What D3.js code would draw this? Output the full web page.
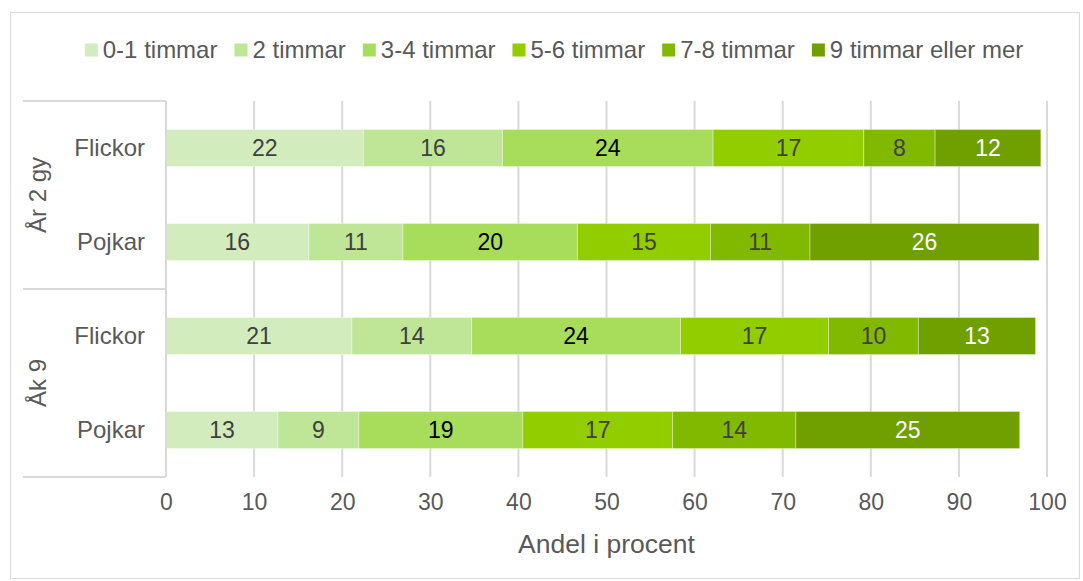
<!DOCTYPE html>
<html>
<head>
<meta charset="utf-8">
<script src="https://cdn.jsdelivr.net/npm/d3@7"></script>
<style>
  body { margin: 0; background: #fff; }
  svg text { font-family: 'Liberation Sans', Arial, sans-serif; }
</style>
</head>
<body>
<div id="graf"></div>
<script>
// data
const serier = ['0-1 timmar', '2 timmar', '3-4 timmar', '5-6 timmar', '7-8 timmar', '9 timmar eller mer']
const grupper = ['År 2 gy', 'År 2 gy', 'Åk 9', 'Åk 9']
const kon = ['Flickor', 'Pojkar', 'Flickor', 'Pojkar']
const t01 = [22.4, 16.2, 21.1, 12.7]
const t2 = [15.8, 10.7, 13.6, 9.2]
const t34 = [23.9, 19.8, 23.7, 18.6]
const t56 = [17.1, 15.1, 16.8, 17.0]
const t78 = [8.1, 11.3, 10.2, 14.0]
const t9 = [12.0, 26.0, 13.3, 25.4]
const xTicks = [0, 10, 20, 30, 40, 50, 60, 70, 80, 90, 100]

const farger = ['#d3ecbd', '#bfe596', '#a8dc5b', '#92cd00', '#81b900', '#6fa000']
const textFarger = ['#404040', '#404040', '#000000', '#404040', '#404040', '#ffffff']

const W = 1083, H = 581
const svg = d3.select('#graf').append('svg').attr('width', W).attr('height', H)

// ram runt diagrammet
svg.append('rect')
  .attr('x', 10.5).attr('y', 12.5).attr('width', W - 14).attr('height', H - 15)
  .attr('fill', '#fff').attr('stroke', '#d9d9d9')

const rader = kon.map((k, i) => ({
  key: grupper[i] + '|' + k, grupp: grupper[i], kon: k,
  [serier[0]]: t01[i], [serier[1]]: t2[i], [serier[2]]: t34[i],
  [serier[3]]: t56[i], [serier[4]]: t78[i], [serier[5]]: t9[i]
}))

const x = d3.scaleLinear().domain([0, 100]).range([166, 1047])
const y = d3.scaleBand().domain(rader.map(d => d.key)).range([101, 477])
  .paddingInner(0.606).paddingOuter(0.303)
const color = d3.scaleOrdinal().domain(serier).range(farger)

// rutnät
svg.append('g').selectAll('line').data(xTicks).join('line')
  .attr('x1', d => x(d)).attr('x2', d => x(d))
  .attr('y1', 101).attr('y2', 477)
  .attr('stroke', '#d9d9d9').attr('stroke-width', 2)

// x-axel etiketter
const xAxis = svg.append('g').attr('transform', 'translate(0,477)')
  .call(d3.axisBottom(x).tickValues(xTicks).tickSize(0).tickPadding(17).tickFormat(d3.format('d')))
xAxis.select('.domain').remove()
xAxis.selectAll('text').attr('font-size', 23).attr('fill', '#595959')
  .attr('font-family', "'Liberation Sans', Arial, sans-serif")

svg.append('text').attr('x', x(50)).attr('y', 553).attr('text-anchor', 'middle')
  .attr('font-size', 26.5).attr('fill', '#595959').text('Andel i procent')

// staplar
const stack = d3.stack().keys(serier)(rader)
const lager = svg.append('g').selectAll('g').data(stack).join('g')
  .attr('fill', d => color(d.key))
lager.selectAll('rect').data(d => d).join('rect')
  .attr('x', d => x(d[0]))
  .attr('y', d => y(d.data.key))
  .attr('width', d => x(d[1]) - x(d[0]))
  .attr('height', y.bandwidth())
  .attr('stroke', '#ffffff').attr('stroke-opacity', 0.35).attr('stroke-width', 1)

// dataetiketter
stack.forEach((s, si) => {
  svg.append('g').selectAll('text').data(s).join('text')
    .attr('x', d => (x(d[0]) + x(d[1])) / 2)
    .attr('y', d => y(d.data.key) + y.bandwidth() / 2)
    .attr('dy', '0.35em').attr('text-anchor', 'middle')
    .attr('font-size', 23).attr('fill', textFarger[si])
    .text(d => Math.round(d[1] - d[0]))
})

// kategoriaxel (två nivåer)
const axel = svg.append('g').attr('stroke', '#d9d9d9').attr('stroke-width', 2)
axel.append('line').attr('x1', 166).attr('x2', 166).attr('y1', 101).attr('y2', 477)
;[101, 289, 477].forEach(yy => {
  axel.append('line').attr('x1', 23).attr('x2', 166).attr('y1', yy).attr('y2', yy)
})

svg.append('g').selectAll('text').data(rader).join('text')
  .attr('x', 145).attr('y', d => y(d.key) + y.bandwidth() / 2)
  .attr('dy', '0.35em').attr('text-anchor', 'end')
  .attr('font-size', 24).attr('fill', '#595959').text(d => d.kon)

const gruppNamn = Array.from(new Set(grupper))
svg.append('g').selectAll('text').data(gruppNamn).join('text')
  .attr('transform', g => {
    const ks = rader.filter(r => r.grupp === g).map(r => y(r.key) + y.bandwidth() / 2)
    return `translate(38,${d3.mean(ks)}) rotate(-90)`
  })
  .attr('dy', '0.35em').attr('text-anchor', 'middle')
  .attr('font-size', 24).attr('fill', '#595959').text(g => g)

// legend
const legend = svg.append('g')
const items = legend.selectAll('g').data(serier).join('g')
items.append('rect').attr('width', 13).attr('height', 13).attr('y', -6.5)
  .attr('fill', d => color(d))
items.append('text').attr('x', 18).attr('dy', '0.35em')
  .attr('font-size', 24).attr('fill', '#595959').text(d => d)
let pos = 0
const bredder = []
items.each(function () {
  bredder.push(18 + this.querySelector('text').getComputedTextLength())
})
const gap = 17
const total = d3.sum(bredder) + gap * (bredder.length - 1)
let start = 554 - total / 2
items.attr('transform', (d, i) => {
  const t = `translate(${start + pos},50)`
  pos += bredder[i] + gap
  return t
})
</script>
</body>
</html>
